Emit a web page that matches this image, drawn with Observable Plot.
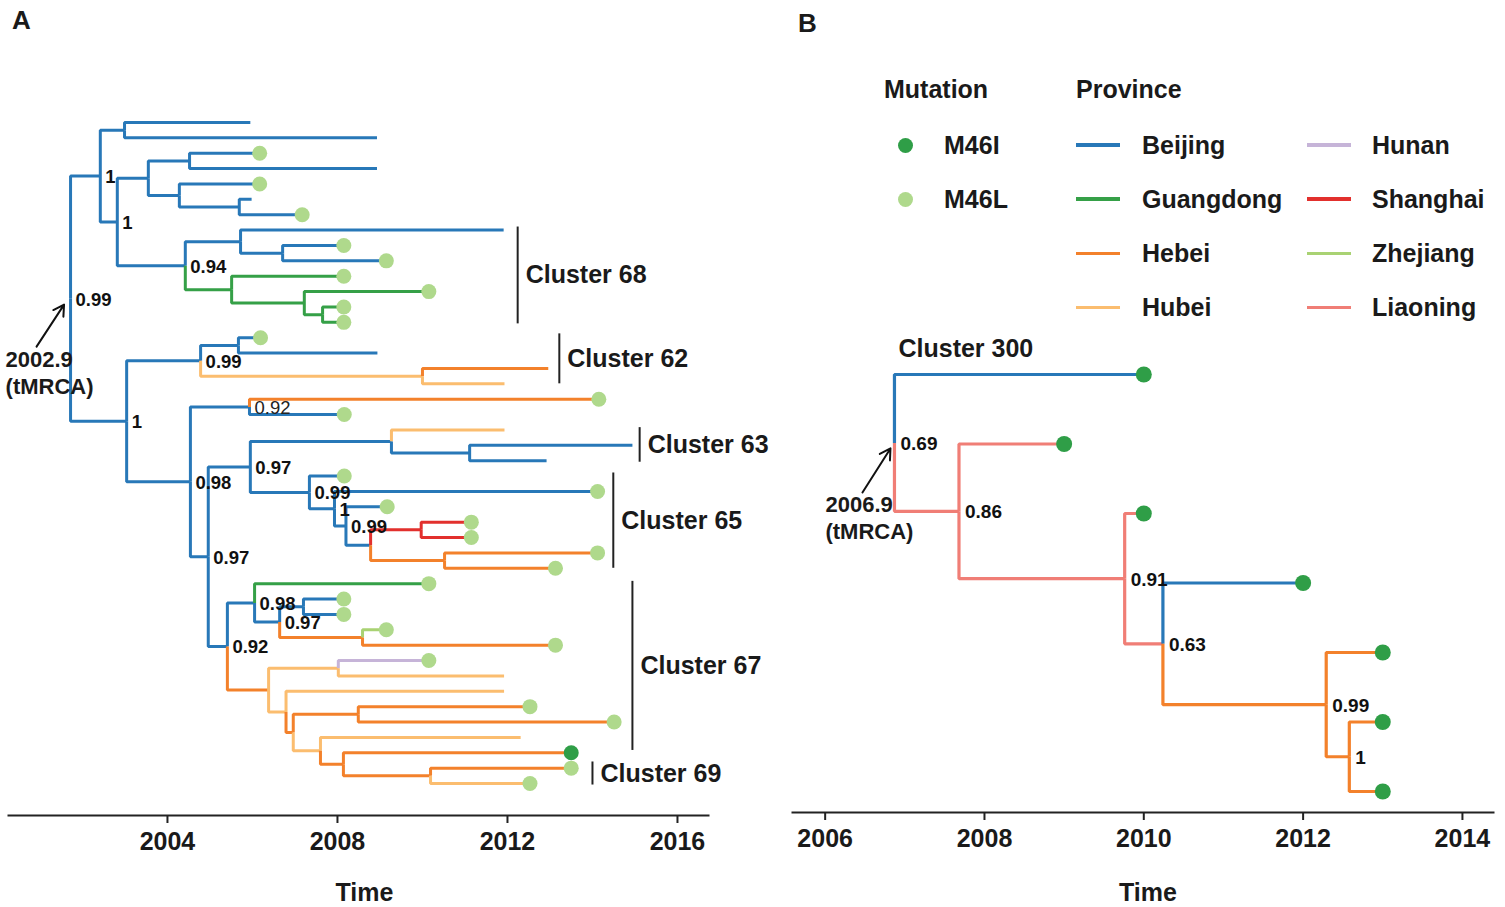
<!DOCTYPE html>
<html><head><meta charset="utf-8">
<script src="https://cdn.jsdelivr.net/npm/d3@7"></script>
<script src="https://cdn.jsdelivr.net/npm/@observablehq/plot@0.6"></script>
<style>
html,body{margin:0;padding:0;background:#fff;}
#wrap{position:relative;width:1505px;height:907px;overflow:hidden;font-family:"Liberation Sans",Arial,Helvetica,sans-serif;font-weight:bold;color:#1a1a1a;}
#wrap svg{position:absolute;top:0;}
.abs{position:absolute;white-space:nowrap;line-height:1;}
</style></head><body><div id="wrap"></div>
<script>
// ---------- categories & colours ----------
const provinces = ["Beijing","Guangdong","Hebei","Hubei","Hunan","Shanghai","Zhejiang","Liaoning"];
const provinceCodes = ["Be","Gu","He","Hu","Hn","Sh","Zh","Li"];
const provinceColors = ["#2878b8","#35a047","#f3812b","#fbbd6f","#c6b4d8","#e2302d","#a9d273","#f07e76"];
const mutations = ["M46I","M46L"];
const mutationCodes = ["I","L"];
const mutationColors = ["#2f9e47","#afd98c"];
const yearTicksA = [2004, 2008, 2012, 2016];
const yearTicksB = [2006, 2008, 2010, 2012, 2014];

// ---------- panel A tree (preorder, upper child first) ----------
const aId = [
  "r","a1","a2","t1","t2","a3","a4","a5","t3","t4","a6","t5","a7","t6","t7",
  "a8","a9","t8","a10","t9","t10","a11","t11","a12","t12","a13","t13","t14",
  "b1","b2","b3","t15","t16","b4","t17","t18","b5","b6","t19","t20",
  "c1","b7","b8","t21","b9","t22","t23","b10","t24","b11","t25","b12","t26","b13","b14","t27","t28","b15","t29","t30",
  "d1","d2","t31","d3","d4","t32","t33","d5","t34","t35",
  "d6","d7","t36","t37","d8","t38","e2","e1","t39","t40","e3","t41","e4","t42","e5","t43","t44"];
const aParent = [
  "","r","a1","a2","a2","a1","a3","a4","a5","a5","a4","a6","a6","a7","a7",
  "a3","a8","a9","a9","a10","a10","a8","a11","a11","a12","a12","a13","a13",
  "r","b1","b2","b3","b3","b2","b4","b4","b1","b5","b6","b6",
  "b5","c1","b7","b8","b8","b9","b9","b7","b10","b10","b11","b11","b12","b12","b13","b14","b14","b13","b15","b15",
  "c1","d1","d2","d2","d3","d4","d4","d3","d5","d5",
  "d1","d6","d7","d7","d6","d8","d8","e2","e1","e1","e2","e3","e3","e4","e4","e5","e5"];
const aTime = [
  2001.72,2002.42,2002.99,2005.95,2008.93,2002.82,2003.55,2004.52,2006.17,2008.93,2004.28,2006.17,2005.69,2005.98,2007.17,
  2004.42,2005.72,2011.91,2006.71,2008.15,2009.15,2005.51,2008.15,2007.22,2010.15,2007.65,2008.15,2008.15,
  2003.04,2004.78,2005.67,2006.19,2008.94,2010.00,2012.96,2011.93,2004.54,2005.93,2014.15,2008.16,
  2004.96,2005.95,2009.27,2011.93,2011.11,2014.94,2012.92,2007.34,2008.16,2007.93,2014.12,2008.20,2009.17,2008.78,2009.97,2011.15,2011.15,2010.52,2014.12,2013.13,
  2005.41,2006.05,2010.15,2006.64,2007.20,2008.15,2008.15,2008.59,2009.15,2013.13,
  2006.38,2008.02,2010.15,2011.92,2006.79,2011.92,2006.96,2008.49,2012.53,2014.51,2007.60,2012.31,2008.14,2013.50,2010.19,2013.50,2012.53];
const aProv = [
  "Be","Be","Be","Be","Be","Be","Be","Be","Be","Be","Be","Be","Be","Be","Be",
  "Be","Be","Be","Be","Be","Be","Gu","Gu","Gu","Gu","Gu","Gu","Gu",
  "Be","Be","Be","Be","Be","Hu","He","Hu","Be","Be","He","Be",
  "Be","Be","Be","Hu","Be","Be","Be","Be","Be","Be","Be","Be","Be","Be","Sh","Sh","Sh","He","He","He",
  "Be","Be","Gu","Be","Be","Be","Be","He","Zh","He",
  "He","Hu","Hn","Hu","Hu","Hu","He","He","He","He","Hu","Hu","He","He","He","He","Hu"];
const aMut = [
  "","","","","","","","","L","","","L","","","L",
  "","","","","L","L","","L","","L","","L","L",
  "","","","L","","","","","","","L","L",
  "","","","","","","","","L","","L","","L","","","L","L","","L","L",
  "","","L","","","L","L","","L","L",
  "","","L","","","","","","L","L","","","","I","","L","L"];
const aSupport = [
  "0.99","1","","","","1","","","","","","","","","",
  "0.94","","","","","","","","","","","","",
  "1","0.99","","","","","","","0.98","0.92","","",
  "0.97","0.97","","","","","","0.99","","1","","0.99","","","","","","","","",
  "0.92","0.98","","0.97","","","","","","",
  "","","","","","","","","","","","","","","","",""];
const aSupportPlain = ["b6"];   // label drawn in regular weight
const aTmrca = "2002.9";

// clusters of panel A (tip rows spanned, bar time)
const clusterNames = ["Cluster 68","Cluster 62","Cluster 63","Cluster 65","Cluster 67","Cluster 69"];
const clusterTime  = [2012.24, 2013.22, 2015.11, 2014.49, 2014.94, 2014.00];
const clusterFrom  = [7.8, 14.75, 20.85, 23.8, 30.85, 42.6];
const clusterTo    = [14.1, 18.0, 23.1, 30.0, 41.85, 44.1];

// ---------- panel B tree ----------
const bId     = ["r","t1","n2","t2","n3","t3","n4","t4","n5","t5","n6","t6","t7"];
const bParent = ["","r","r","n2","n2","n3","n3","n4","n4","n5","n5","n6","n6"];
const bTime   = [2006.87,2010.00,2007.68,2009.00,2009.76,2010.00,2010.24,2012.00,2012.29,2013.00,2012.58,2013.00,2013.00];
const bProv   = ["Li","Be","Li","Li","Li","Li","Li","Be","He","He","He","He","He"];
const bMut    = ["","I","","I","","I","","I","","I","","I","I"];
const bSupport= ["0.69","","0.86","","0.91","","0.63","","0.99","","1","",""];
const bTmrca = "2006.9";
const bClusterName = "Cluster 300";

// ---------- helpers ----------
const provName = Object.fromEntries(provinceCodes.map((c,i)=>[c,provinces[i]]));
const mutName = Object.fromEntries(mutationCodes.map((c,i)=>[c,mutations[i]]));
function buildTree(ids, parents, times, provs, muts, sups) {
  const nodes = ids.map((id,i)=>({id, parent: parents[i], time: times[i], prov: provName[provs[i]],
    mut: muts[i] ? mutName[muts[i]] : null, sup: sups[i], children: []}));
  const byId = new Map(nodes.map(n=>[n.id,n]));
  nodes.forEach(n=>{ if (n.parent) byId.get(n.parent).children.push(n); });
  let row = 0;
  nodes.forEach(n=>{ if (!n.children.length) n.y = ++row; });
  for (let i = nodes.length-1; i>=0; --i) {
    const n = nodes[i];
    if (n.children.length) n.y = d3.mean(n.children, c=>c.y);
  }
  const edges = [];
  nodes.forEach(n=>{
    if (!n.parent) return;
    const p = byId.get(n.parent);
    edges.push({id:n.id, prov:n.prov, x:p.time, y:p.y},
               {id:n.id, prov:n.prov, x:p.time, y:n.y},
               {id:n.id, prov:n.prov, x:n.time, y:n.y});
  });
  return {nodes, edges, tips: nodes.filter(n=>!n.children.length), root: nodes.find(n=>!n.parent), rows: row};
}
const treeA = buildTree(aId,aParent,aTime,aProv,aMut,aSupport);
const treeB = buildTree(bId,bParent,bTime,bProv,bMut,bSupport);
const colorScale = {domain:[...provinces,...mutations], range:[...provinceColors,...mutationColors]};
const FONT = '"Liberation Sans", Arial, Helvetica, sans-serif';
const INK = "#1a1a1a";

// ---------- panel A ----------
const A = {width:780, height:907, ml:8, mr:72, mb:92, dom:[2000.26,2016.73], yr:[122,783]};
const kxA = (A.width-A.ml-A.mr)/(A.dom[1]-A.dom[0]);
const kyA = (A.yr[1]-A.yr[0])/(treeA.rows-1);
const clusters = clusterNames.map((name,i)=>({name, time: clusterTime[i], from: clusterFrom[i], to: clusterTo[i]}));
const labeledA = treeA.nodes.filter(n=>n.sup);
const plotA = Plot.plot({
  width:A.width, height:A.height, marginLeft:A.ml, marginRight:A.mr, marginTop:0, marginBottom:A.mb,
  x:{domain:A.dom}, y:{domain:[1,treeA.rows], range:A.yr, axis:null},
  color: colorScale,
  style:{fontFamily:FONT, background:"transparent", overflow:"visible", color:INK},
  marks:[
    Plot.frame({anchor:"bottom", stroke:"#222", strokeWidth:2}),
    Plot.axisX({ticks:yearTicksA, tickFormat:"d", tickSize:8, tickPadding:9, fontSize:25, fontWeight:"bold", stroke:"#222", strokeWidth:2, label:null}),
    Plot.text(["Time"], {text:d=>d, frameAnchor:"bottom", dy:85, dx:6, fontSize:25, fontWeight:"bold", fill:INK}),
    Plot.line(treeA.edges, {x:"x", y:"y", z:"id", stroke:"prov", strokeWidth:3, strokeLinejoin:"miter", strokeLinecap:"butt"}),
    Plot.dot(treeA.tips.filter(n=>n.mut), {x:"time", y:"y", fill:"mut", r:7.5}),
    Plot.text(labeledA.filter(n=>!aSupportPlain.includes(n.id)), {x:"time", y:"y", text:"sup", textAnchor:"start", dx:5, dy:1, fontSize:18.5, fontWeight:"bold", fill:"#111"}),
    Plot.text(labeledA.filter(n=>aSupportPlain.includes(n.id)), {x:"time", y:"y", text:"sup", textAnchor:"start", dx:5, dy:1, fontSize:18.5, fontWeight:"normal", fill:"#222"}),
    Plot.ruleX(clusters, {x:"time", y1:"from", y2:"to", stroke:"#222", strokeWidth:2}),
    Plot.text(clusters, {x:"time", y:d=>(d.from+d.to)/2, text:"name", textAnchor:"start", dx:8, fontSize:25, fontWeight:"bold", fill:INK}),
    Plot.arrow([treeA.root], {x1:d=>d.time-34/kxA, y1:d=>d.y+48/kyA, x2:d=>d.time-6.5/kxA, y2:d=>d.y+6/kyA, stroke:"#111", strokeWidth:2, headLength:9}),
    Plot.text([treeA.root], {x:"time", y:"y", text:()=>aTmrca+"\n(tMRCA)", textAnchor:"start", lineAnchor:"middle", lineHeight:1.2, dx:-65, dy:73.5, fontSize:22, fontWeight:"bold", fill:INK})
  ]
});
plotA.style.left = "0px";

// ---------- panel B ----------
const B = {left:780, width:725, ml:12, mr:12, mb:95, dom:[2005.59,2014.39], yr:[374,791]};
const kxB = (B.width-B.ml-B.mr)/(B.dom[1]-B.dom[0]);
const kyB = (B.yr[1]-B.yr[0])/(treeB.rows-1);
const plotB = Plot.plot({
  width:B.width, height:907, marginLeft:B.ml, marginRight:B.mr, marginTop:0, marginBottom:B.mb,
  x:{domain:B.dom}, y:{domain:[1,treeB.rows], range:B.yr, axis:null},
  color: colorScale,
  style:{fontFamily:FONT, background:"transparent", overflow:"visible", color:INK},
  marks:[
    Plot.frame({anchor:"bottom", stroke:"#222", strokeWidth:2}),
    Plot.axisX({ticks:yearTicksB, tickFormat:"d", tickSize:8, tickPadding:9, fontSize:25, fontWeight:"bold", stroke:"#222", strokeWidth:2, label:null}),
    Plot.text(["Time"], {text:d=>d, frameAnchor:"bottom", dy:88.5, dx:5, fontSize:25, fontWeight:"bold", fill:INK}),
    Plot.line(treeB.edges, {x:"x", y:"y", z:"id", stroke:"prov", strokeWidth:3.2, strokeLinejoin:"miter", strokeLinecap:"butt"}),
    Plot.dot(treeB.tips.filter(n=>n.mut), {x:"time", y:"y", fill:"mut", r:8}),
    Plot.text(treeB.nodes.filter(n=>n.sup), {x:"time", y:"y", text:"sup", textAnchor:"start", dx:6, dy:1, fontSize:19, fontWeight:"bold", fill:"#111"}),
    Plot.arrow([treeB.root], {x1:d=>d.time-32/kxB, y1:d=>d.y+49.5/kyB, x2:d=>d.time-4/kxB, y2:d=>d.y+5.5/kyB, stroke:"#111", strokeWidth:2, headLength:9}),
    Plot.text([treeB.root], {x:"time", y:"y", text:()=>bTmrca+"\n(tMRCA)", textAnchor:"start", lineAnchor:"middle", lineHeight:1.2, dx:-69, dy:74, fontSize:22, fontWeight:"bold", fill:INK}),
    Plot.text([treeB.tips[0]], {x:()=>treeB.root.time, y:"y", text:()=>bClusterName, textAnchor:"start", dx:4, dy:-26, fontSize:25, fontWeight:"bold", fill:INK})
  ]
});
plotB.style.left = B.left+"px";

const wrap = document.getElementById("wrap");
wrap.appendChild(plotA);
wrap.appendChild(plotB);

// ---------- panel letters & legend (HTML) ----------
function addText(txt, left, cy, size) {
  const d = document.createElement("div");
  d.className = "abs"; d.textContent = txt;
  d.style.left = left+"px"; d.style.top = (cy - size/2)+"px"; d.style.fontSize = size+"px";
  wrap.appendChild(d); return d;
}
function addBox(left, top, w, h, color, radius) {
  const d = document.createElement("div");
  d.style.cssText = `position:absolute;left:${left}px;top:${top}px;width:${w}px;height:${h}px;background:${color};border-radius:${radius||0}px`;
  wrap.appendChild(d);
}
addText("A", 12, 19.5, 26);
addText("B", 798, 22.5, 26);
addText("Mutation", 884, 89, 25);
addText("Province", 1076, 89, 25);
const legRow0 = 145, legStep = 54.2;
mutations.forEach((m,i)=>{
  const cy = legRow0 + i*legStep;
  addBox(897.5, cy-7.5, 15, 15, mutationColors[i], 8);
  addText(m, 944, cy, 25);
});
provinces.forEach((p,i)=>{
  const col = Math.floor(i/4), row = i%4;
  const cy = legRow0 + row*legStep;
  const x0 = col ? 1307 : 1076;
  addBox(x0, cy-1.75, 44, 3.5, provinceColors[i]);
  addText(p, col ? 1372 : 1142, cy, 25);
});
</script></body></html>
